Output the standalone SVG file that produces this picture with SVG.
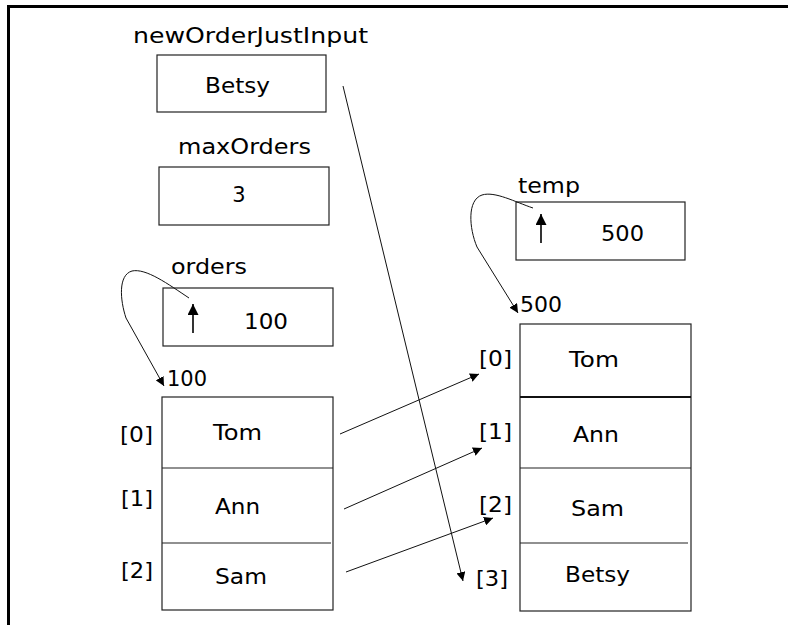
<svg xmlns="http://www.w3.org/2000/svg" width="788" height="625" viewBox="0 0 788 625">
<defs>
<style>
.t{font-family:"DejaVu Sans",Verdana,sans-serif;font-size:21px;fill:#000}
.box{fill:#fff;stroke:#222;stroke-width:1.2}
.div{stroke:#222;stroke-width:1.2}
.ln{fill:none;stroke:#111;stroke-width:1}
.up{fill:none;stroke:#000;stroke-width:1.6}
</style>
<marker id="ah" viewBox="0 0 10 10" refX="10" refY="5" markerWidth="9" markerHeight="9" markerUnits="userSpaceOnUse" orient="auto">
<path d="M0,0 L10,5 L0,10 z" fill="#000"/>
</marker>
<marker id="ahb" viewBox="0 0 10 10" refX="10" refY="5" markerWidth="11" markerHeight="11" markerUnits="userSpaceOnUse" orient="auto">
<path d="M0,0 L10,5 L0,10 z" fill="#000"/>
</marker>
</defs>
<rect width="788" height="625" fill="#fff"/>
<path d="M8.5,625 V6.5 H788" fill="none" stroke="#000" stroke-width="3"/>

<g id="newOrderJustInput">
<text class="t" x="133" y="43" textLength="235" lengthAdjust="spacingAndGlyphs">newOrderJustInput</text>
<rect class="box" x="157" y="55" width="169" height="57"/>
<text class="t" x="205" y="93" textLength="65" lengthAdjust="spacingAndGlyphs">Betsy</text>
</g>

<g id="maxOrders">
<text class="t" x="178" y="154" textLength="133" lengthAdjust="spacingAndGlyphs">maxOrders</text>
<rect class="box" x="159" y="167" width="170" height="58"/>
<text class="t" x="239" y="202" text-anchor="middle">3</text>
</g>

<g id="orders">
<text class="t" x="171" y="274" textLength="76" lengthAdjust="spacingAndGlyphs">orders</text>
<rect class="box" x="163" y="288" width="170" height="58"/>
<text class="t" x="244" y="329" textLength="44" lengthAdjust="spacingAndGlyphs">100</text>
</g>

<g id="temp">
<text class="t" x="518" y="193" textLength="62" lengthAdjust="spacingAndGlyphs">temp</text>
<rect class="box" x="516" y="202" width="169" height="58"/>
<text class="t" x="601" y="241" textLength="43" lengthAdjust="spacingAndGlyphs">500</text>
</g>

<g id="array100">
<text class="t" x="167" y="386" textLength="40" lengthAdjust="spacingAndGlyphs">100</text>
<rect class="box" x="162" y="397" width="171" height="213"/>
<line class="div" x1="162" y1="468" x2="333" y2="468"/>
<line class="div" x1="162" y1="543" x2="331" y2="543"/>
<text class="t" x="120" y="442" textLength="33" lengthAdjust="spacingAndGlyphs">[0]</text>
<text class="t" x="121" y="506" textLength="32" lengthAdjust="spacingAndGlyphs">[1]</text>
<text class="t" x="121" y="578" textLength="32" lengthAdjust="spacingAndGlyphs">[2]</text>
<text class="t" x="213" y="440" textLength="49" lengthAdjust="spacingAndGlyphs">Tom</text>
<text class="t" x="215" y="514" textLength="45" lengthAdjust="spacingAndGlyphs">Ann</text>
<text class="t" x="215" y="584" textLength="52" lengthAdjust="spacingAndGlyphs">Sam</text>
</g>

<g id="array500">
<text class="t" x="520" y="312" textLength="42" lengthAdjust="spacingAndGlyphs">500</text>
<rect class="box" x="520" y="324" width="171" height="287"/>
<line x1="520" y1="397" x2="691" y2="397" stroke="#111" stroke-width="2.2"/>
<line class="div" x1="520" y1="468" x2="691" y2="468"/>
<line class="div" x1="520" y1="543" x2="688" y2="543"/>
<text class="t" x="479" y="366" textLength="33" lengthAdjust="spacingAndGlyphs">[0]</text>
<text class="t" x="479" y="439" textLength="33" lengthAdjust="spacingAndGlyphs">[1]</text>
<text class="t" x="479" y="512" textLength="33" lengthAdjust="spacingAndGlyphs">[2]</text>
<text class="t" x="476" y="586" textLength="32" lengthAdjust="spacingAndGlyphs">[3]</text>
<text class="t" x="569" y="367" textLength="50" lengthAdjust="spacingAndGlyphs">Tom</text>
<text class="t" x="573" y="442" textLength="46" lengthAdjust="spacingAndGlyphs">Ann</text>
<text class="t" x="571" y="516" textLength="53" lengthAdjust="spacingAndGlyphs">Sam</text>
<text class="t" x="565" y="582" textLength="65" lengthAdjust="spacingAndGlyphs">Betsy</text>
</g>

<g id="connectors">
<line class="up" x1="193" y1="333" x2="193" y2="304" marker-end="url(#ahb)"/>
<line class="up" x1="541" y1="243" x2="541" y2="214" marker-end="url(#ahb)"/>
<path class="ln" d="M189,298 C168,284 146,268 132,271 C118,275 120,300 126,318 L164,386" marker-end="url(#ah)"/>
<path class="ln" d="M533,208 C515,202 495,191 482,195 C467,200 469,228 477,247 L518,313" marker-end="url(#ah)"/>
<line class="ln" x1="343" y1="86" x2="463" y2="581" marker-end="url(#ah)"/>
<line class="ln" x1="340" y1="434" x2="479" y2="374" marker-end="url(#ah)"/>
<line class="ln" x1="344" y1="509" x2="482" y2="448" marker-end="url(#ah)"/>
<line class="ln" x1="346" y1="572" x2="493" y2="518" marker-end="url(#ah)"/>
</g>
</svg>
